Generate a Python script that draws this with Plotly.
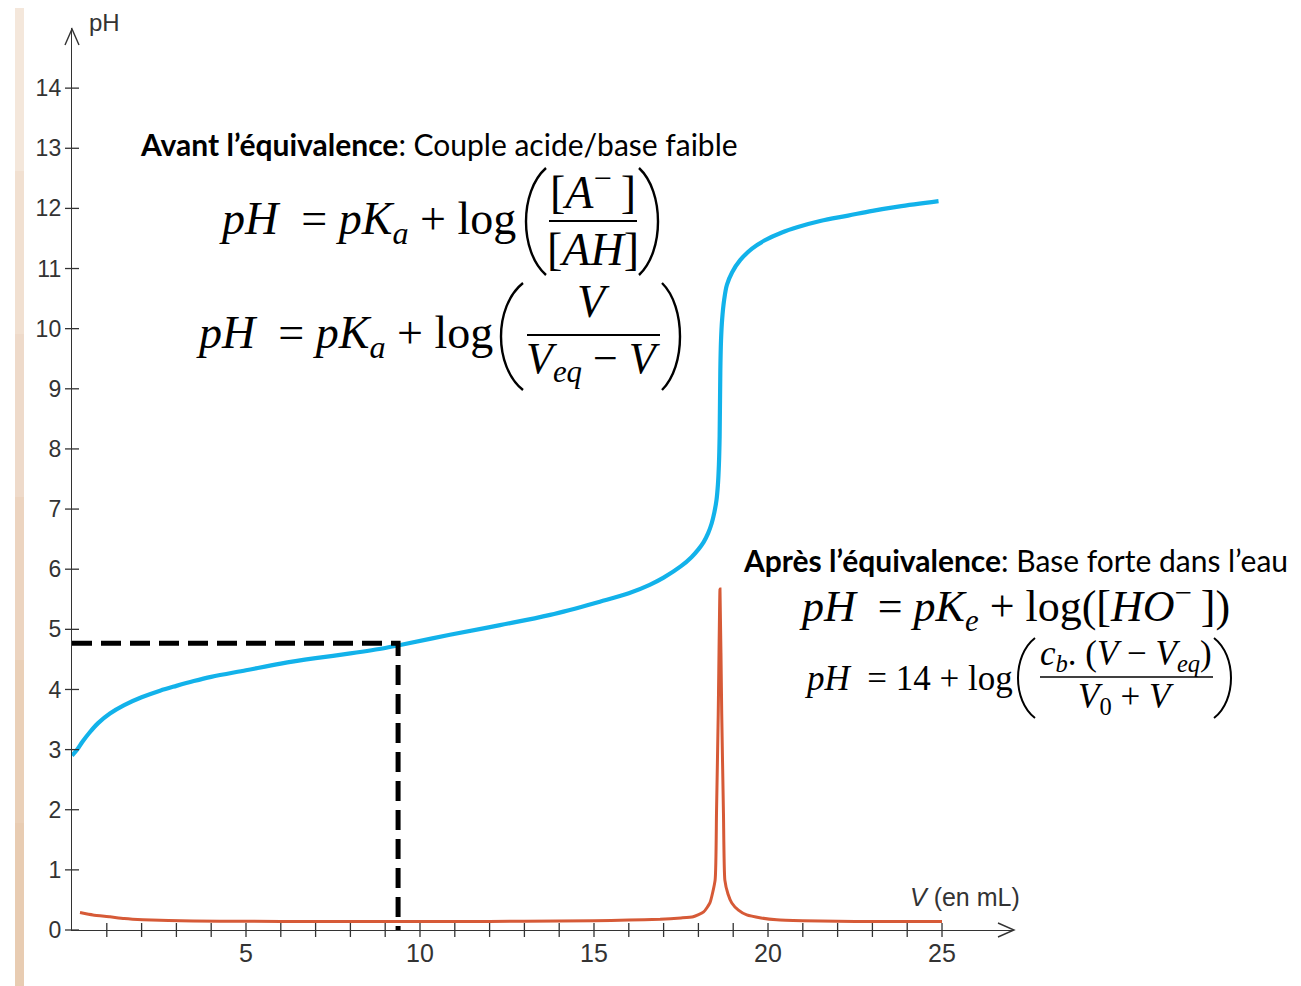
import plotly.graph_objects as go

# ---------------- data ----------------
V_ph = [0, 0.15, 0.3, 0.5, 0.75, 1.09, 1.5, 2.0, 2.53, 3.0, 3.5, 4.0, 5.0, 6.0, 7.0, 8.0, 9.0, 9.43,
        10.86, 12.3, 13.74, 15.17, 16.0, 16.6, 17.0, 17.5, 17.8, 18.0, 18.15, 18.28, 18.38,
        18.46, 18.52, 18.56, 18.59, 18.61, 18.63, 18.65, 18.68, 18.74, 18.82, 18.97, 19.2,
        19.54, 19.91, 20.4, 20.86, 21.5, 22.3, 23.0, 23.74, 24.9]
pH = [2.9, 3.0, 3.13, 3.28, 3.44, 3.6, 3.74, 3.87, 3.98, 4.06, 4.14, 4.21, 4.32, 4.43, 4.52, 4.6, 4.69, 4.74,
      4.91, 5.07, 5.24, 5.46, 5.6, 5.74, 5.86, 6.05, 6.2, 6.33, 6.45, 6.6, 6.76,
      6.95, 7.15, 7.4, 7.75, 8.2, 9.31, 9.81, 10.14, 10.48, 10.73, 10.94, 11.14,
      11.33, 11.47, 11.6, 11.69, 11.79, 11.88, 11.96, 12.03, 12.12]

V_der = [0.23, 0.6, 1.09, 1.5, 2.04, 3.48, 5.0, 7.0, 9.0, 11.0, 13.0, 15.0, 16.0, 16.9, 17.5,
         17.85, 18.15, 18.33, 18.48, 18.52, 18.57, 18.62, 18.67, 18.72, 18.76, 18.85, 18.96,
         19.15, 19.39, 19.8, 20.25, 21.0, 22.0, 23.0, 24.0, 25.0]
dpH = [0.29, 0.25, 0.22, 0.19, 0.17, 0.15, 0.145, 0.14, 0.14, 0.14, 0.145, 0.155, 0.165, 0.18, 0.2,
       0.22, 0.3, 0.45, 0.83, 1.94, 3.6, 5.67, 3.6, 1.94, 0.83, 0.6, 0.45,
       0.33, 0.25, 0.2, 0.17, 0.155, 0.145, 0.14, 0.14, 0.14]

V_half = 9.37
pH_half = 4.77

y_tick_vals = list(range(0, 15))
x_minor_ticks = list(range(1, 26))
x_label_vals = [5, 10, 15, 20, 25]

# ---------------- geometry helpers (pixel -> paper) ----------------
W, H = 1301, 986
X0, X1 = 72, 1013      # pixel of x=0 and of the arrow tip
Y0, Y1 = 930, 28       # pixel of y=0 and of top of axis
XMAX = 27.04
YMAX = 15.0


def px(x):
    return (x - X0) / (X1 - X0)


def py(y):
    return (Y0 - y) / (Y0 - Y1)


AXC = "#333333"
BLUE = "#12B2EA"
RED = "#D65A37"

fig = go.Figure()

fig.add_trace(go.Scatter(x=V_ph, y=pH, mode="lines",
                         line=dict(color=BLUE, width=4.2, shape="spline", smoothing=1.0),
                         hoverinfo="skip"))
fig.add_trace(go.Scatter(x=V_der, y=dpH, mode="lines",
                         line=dict(color=RED, width=3, shape="spline", smoothing=0.5),
                         hoverinfo="skip"))
fig.add_trace(go.Scatter(x=[0, V_half, V_half], y=[pH_half, pH_half, 0], mode="lines",
                         line=dict(color="black", width=5, dash="20px,9px"),
                         hoverinfo="skip", cliponaxis=False))
fig.add_trace(go.Scatter(x=[0] * len(y_tick_vals), y=y_tick_vals, mode="markers",
                         marker=dict(symbol="line-ew", size=10, line=dict(width=1.3, color=AXC)),
                         hoverinfo="skip", cliponaxis=False))
fig.add_trace(go.Scatter(x=x_minor_ticks, y=[0] * len(x_minor_ticks), mode="markers",
                         marker=dict(symbol="line-ns", size=10, line=dict(width=1.3, color=AXC)),
                         hoverinfo="skip", cliponaxis=False))

shapes = []
shapes.append(dict(type="path", xref="paper", yref="paper",
                   path=f"M {px(65)} {py(45)} L {px(72)} {py(29)} L {px(79)} {py(45)}",
                   line=dict(color=AXC, width=1.4)))
shapes.append(dict(type="path", xref="paper", yref="paper",
                   path=f"M {px(998)} {py(923)} L {px(1014)} {py(930)} L {px(998)} {py(937)}",
                   line=dict(color=AXC, width=1.4)))

stripe_cols = ["#F4E7DB", "#F1E0D1", "#EEDACA", "#ECD4C0", "#EAD0B8", "#E8CCB2"]
n = len(stripe_cols)
top, bot = 8, 986
for i, c in enumerate(stripe_cols):
    ya = top + (bot - top) * i / n
    yb = top + (bot - top) * (i + 1) / n
    shapes.append(dict(type="rect", xref="paper", yref="paper",
                       x0=px(15), x1=px(24), y0=py(yb), y1=py(ya),
                       fillcolor=c, line=dict(width=0), layer="below"))


def paren(xl, xr, ytop, ybot, left=True, width=2.4):
    h = ybot - ytop
    if left:
        xe, xm = xr, xl
    else:
        xe, xm = xl, xr
    c = (xm - 0.25 * xe) / 0.75
    p = (f"M {px(xe)} {py(ytop)} C {px(c)} {py(ytop + 0.22 * h)} "
         f"{px(c)} {py(ybot - 0.22 * h)} {px(xe)} {py(ybot)}")
    return dict(type="path", xref="paper", yref="paper", path=p,
                line=dict(color="black", width=width))


def bar(xa, xb, y, width=2):
    return dict(type="line", xref="paper", yref="paper", x0=px(xa), x1=px(xb),
                y0=py(y), y1=py(y), line=dict(color="black", width=width))


shapes += [paren(526, 546, 168, 275, True), bar(549, 637, 221), paren(639, 658, 168, 275, False)]
shapes += [paren(501, 523, 283, 390, True), bar(527, 660, 335), paren(662, 680, 283, 390, False)]
shapes += [paren(1018, 1035, 638, 718, True, 2), bar(1040, 1213, 677, 1.6),
           paren(1214, 1231, 638, 718, False, 2)]

annotations = []


def ann(text, x, y, size, xanchor="left", family="Liberation Serif", color="black"):
    annotations.append(dict(text=text, x=px(x), y=py(y), xref="paper", yref="paper",
                            xanchor=xanchor, yanchor="middle", showarrow=False,
                            font=dict(family=family, size=size, color=color)))


NB = "\u00a0"
TH = "\u2009"
SANS = "Lato"
ann("<b>Avant l’équivalence</b>: Couple acide/base faible", 138, 144, 30, family=SANS)
ann("<b>Après l’équivalence</b>: Base forte dans l’eau", 741, 560, 30, family=SANS)

# formula 1
ann(f"<i>pH</i>{NB}{NB}= <i>pK</i><sub><i>a</i></sub> + log", 518, 222, 46, xanchor="right")
ann(f"[<i>A</i><sup>−</sup>{TH}]", 593, 189, 46, xanchor="center")
ann("[<i>AH</i>]", 593, 249, 46, xanchor="center")
# formula 2
ann(f"<i>pH</i>{NB}{NB}= <i>pK</i><sub><i>a</i></sub> + log", 495, 336, 46, xanchor="right")
ann("<i>V</i>", 593, 302, 46, xanchor="center")
ann(f"<i>V</i><sub><i>eq</i></sub> − <i>V</i>", 593, 362, 44, xanchor="center")
# formula 3
ann(f"<i>pH</i>{NB}{NB}= <i>pK</i><sub><i>e</i></sub> + log([<i>HO</i><sup>−</sup>{TH}])",
    797, 607, 44)
# formula 4
ann(f"<i>pH</i>{NB}{NB}= 14 + log", 1015, 678, 35, xanchor="right")
ann("<i>c</i><sub><i>b</i></sub>. (<i>V</i> − <i>V</i><sub><i>eq</i></sub>)", 1126, 655, 35, xanchor="center")
ann("<i>V</i><sub>0</sub> + <i>V</i>", 1126, 698, 35, xanchor="center")

ann("pH", 87, 22, 24, family="Liberation Sans", color=AXC)
ann("<i>V</i> (en mL)", 1022, 897, 25, xanchor="right", family="Liberation Sans", color=AXC)

fig.update_layout(
    width=W, height=H,
    margin=dict(l=X0, r=W - X1, t=Y1, b=H - Y0, pad=0),
    paper_bgcolor="white", plot_bgcolor="white",
    showlegend=False, hovermode=False,
    shapes=shapes, annotations=annotations,
    xaxis=dict(range=[0, XMAX], showgrid=False, zeroline=False, showline=True,
               linecolor=AXC, linewidth=1.4, ticks="", tickvals=x_label_vals,
               ticklabelstandoff=1,
               tickfont=dict(family="Liberation Sans", size=25, color=AXC), fixedrange=True),
    yaxis=dict(range=[0, YMAX], showgrid=False, zeroline=False, showline=True,
               linecolor=AXC, linewidth=1.4, ticks="", tickvals=y_tick_vals,
               ticklabelstandoff=5,
               tickfont=dict(family="Liberation Sans", size=23, color=AXC), fixedrange=True),
)

fig.write_html("out.html")
